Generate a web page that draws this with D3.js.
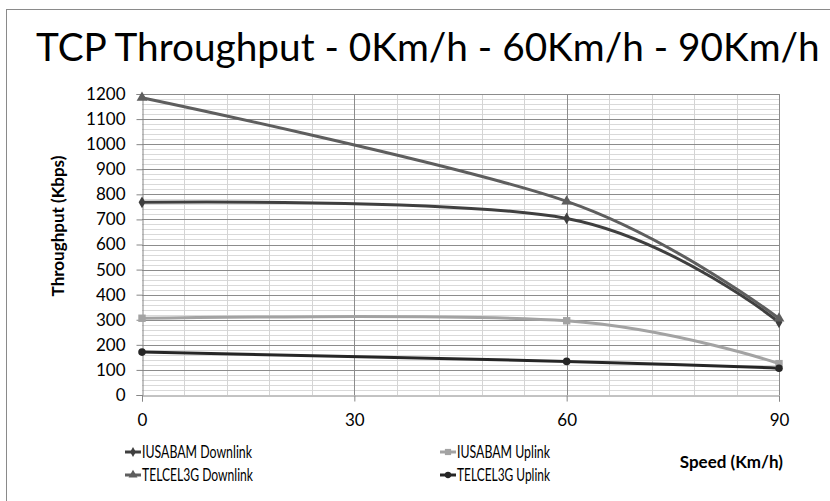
<!DOCTYPE html>
<html><head><meta charset="utf-8">
<script src="https://cdn.jsdelivr.net/npm/d3@7"></script>
<style>body{margin:0;background:#fff}svg{display:block}</style>
</head><body>
<svg id="c" width="830" height="501"></svg>
<script>
const speeds = [0, 60, 90];
const iusabamDown = [768, 704, 290];
const iusabamUp = [306, 296, 125];
const telcelDown = [1185, 772, 305];
const telcelUp = [171, 134, 107];
const seriesNames = ["IUSABAM Downlink", "IUSABAM Uplink", "TELCEL3G Downlink", "TELCEL3G Uplink"];
const xTicks = [0, 30, 60, 90];
const yTicks = [0,100,200,300,400,500,600,700,800,900,1000,1100,1200];

const series = [
  {name: seriesNames[0], values: iusabamDown, color: "#3f3f3f", sym: d3.symbolDiamond, size: 40, w: 110},
  {name: seriesNames[1], values: iusabamUp, color: "#a3a3a3", sym: d3.symbolSquare, size: 55, w: 93},
  {name: seriesNames[2], values: telcelDown, color: "#5e5e5e", sym: d3.symbolTriangle, size: 50, w: 111},
  {name: seriesNames[3], values: telcelUp, color: "#262626", sym: d3.symbolCircle, size: 45, w: 93}
];

const svg = d3.select("#c");
const font = "Lato, 'Open Sans', sans-serif";

svg.append("rect").attr("x", 6.5).attr("y", 9.5).attr("width", 840).attr("height", 520)
  .attr("fill", "none").attr("stroke", "#8a8a8a").attr("stroke-width", 1);

const title = svg.append("text").attr("x", 36).attr("y", 61).attr("font-family", font)
  .attr("font-size", 42).attr("fill", "#000")
  .text("TCP Throughput - 0Km/h - 60Km/h - 90Km/h");
// shrink font so the title fits the width it has in the reference
const tw = title.node().getComputedTextLength();
if (tw > 784) title.attr("font-size", 42 * 784 / tw);

const x = d3.scaleLinear().domain([0, 90]).range([142, 779]);
const y = d3.scaleLinear().domain([0, 1200]).range([395, 94]);

const g = svg.append("g");
const minorY = d3.range(0, 1201, 20).filter(v => v % 100 !== 0);
g.selectAll(".mh").data(minorY).join("line")
  .attr("x1", x(0)).attr("x2", x(90)).attr("y1", d => Math.round(y(d)) + 0.5).attr("y2", d => Math.round(y(d)) + 0.5)
  .attr("stroke", "#d9d9d9").attr("stroke-width", 1);
const minorX = d3.range(0, 91, 6).filter(v => v % 30 !== 0);
g.selectAll(".mv").data(minorX).join("line")
  .attr("y1", y(0)).attr("y2", y(1200)).attr("x1", d => Math.round(x(d)) + 0.5).attr("x2", d => Math.round(x(d)) + 0.5)
  .attr("stroke", "#d4d4d4").attr("stroke-width", 1);
g.selectAll(".Mh").data(yTicks.filter(v => v > 0)).join("line")
  .attr("x1", x(0)).attr("x2", x(90)).attr("y1", d => Math.round(y(d)) + 0.5).attr("y2", d => Math.round(y(d)) + 0.5)
  .attr("stroke", "#8c8c8c").attr("stroke-width", 1);
g.selectAll(".Mv").data(xTicks.filter(v => v > 0)).join("line")
  .attr("y1", y(0)).attr("y2", y(1200)).attr("x1", d => Math.round(x(d)) + 0.5).attr("x2", d => Math.round(x(d)) + 0.5)
  .attr("stroke", "#8c8c8c").attr("stroke-width", 1);

const yAxis = d3.axisLeft(y).tickValues(yTicks).tickFormat(d3.format("d")).tickSize(6).tickPadding(11);
const ya = svg.append("g").attr("transform", `translate(${Math.round(x(0)) + 0.5},0)`).call(yAxis);
const xAxis = d3.axisBottom(x).tickValues(xTicks).tickFormat(d3.format("d")).tickSize(6).tickPadding(12);
const xa = svg.append("g").attr("transform", `translate(0,${Math.round(y(0)) + 0.5})`).call(xAxis);
[ya, xa].forEach(a => {
  a.select(".domain").attr("stroke", "#868686");
  a.selectAll(".tick line").attr("stroke", "#868686");
  a.selectAll(".tick text").attr("font-family", font).attr("font-size", 17).attr("fill", "#000");
});

const line = d3.line().x((d, i) => x(speeds[i])).y(d => y(d)).curve(d3.curveCardinal.tension(0));
series.forEach(s => {
  svg.append("path").datum(s.values).attr("d", line)
    .attr("fill", "none").attr("stroke", s.color).attr("stroke-width", 3).attr("stroke-linecap", "round");
});
series.forEach(s => {
  svg.selectAll(null).data(s.values).join("path")
    .attr("d", d3.symbol().type(s.sym).size(s.size))
    .attr("transform", (d, i) => `translate(${x(speeds[i])},${y(d)})`)
    .attr("fill", s.color);
});

svg.append("text").attr("transform", "translate(64,226) rotate(-90)")
  .attr("text-anchor", "middle").attr("font-family", font).attr("font-weight", "bold")
  .attr("font-size", 17).text("Throughput (Kbps)");
svg.append("text").attr("x", 783).attr("y", 468).attr("text-anchor", "end")
  .attr("font-family", font).attr("font-weight", "bold").attr("font-size", 17).text("Speed (Km/h)");

const legPos = [[125, 452], [440, 452], [125, 475], [440, 475]];
series.forEach((s, i) => {
  const [lx, ly] = legPos[i];
  const lg = svg.append("g").attr("transform", `translate(${lx},${ly})`);
  lg.append("line").attr("x1", 0).attr("x2", 16).attr("y1", 0).attr("y2", 0)
    .attr("stroke", s.color).attr("stroke-width", 3);
  lg.append("path").attr("d", d3.symbol().type(s.sym).size(s.size * 0.7)).attr("transform", "translate(8,0)").attr("fill", s.color);
  lg.append("text").attr("x", 17).attr("y", 6).attr("font-family", font).attr("font-size", 17)
    .attr("textLength", s.w).attr("lengthAdjust", "spacingAndGlyphs")
    .attr("fill", "#000").text(s.name);
});
</script>
</body></html>
